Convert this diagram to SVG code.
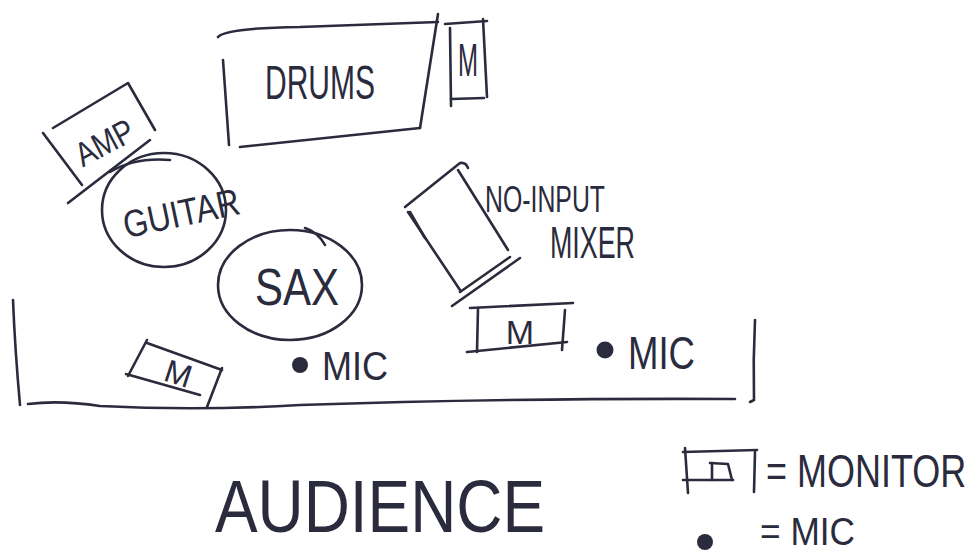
<svg xmlns="http://www.w3.org/2000/svg" width="980" height="553" viewBox="0 0 980 553">
<style>
.s{fill:none;stroke:#2b2b3e;stroke-width:2.6;stroke-linecap:round;stroke-linejoin:round}
.t{fill:#2b2b3e;font-family:"Liberation Sans",Arial,sans-serif}
.dot{fill:#2b2b3e}
</style>
<rect width="980" height="553" fill="#ffffff"/>
<g id="stage">
<path class="s" d="M13,300 Q15,350 20,405"/>
<path class="s" d="M28,404 Q60,400 100,406 Q200,411 300,405 Q500,398 735,399"/>
<path class="s" d="M755,320 Q753,360 754,400 L750,402"/>
</g>
<g id="drums">
<path class="s" d="M218,37 Q225,28 300,27 L438,22"/>
<path class="s" d="M223,60 L229,145"/>
<path class="s" d="M240,147 L420,128"/>
<path class="s" d="M438,14 L420,128"/>
<text class="t" x="265" y="99" font-size="48" textLength="110" lengthAdjust="spacingAndGlyphs">DRUMS</text>
</g>
<g id="monitor-drums">
<path class="s" d="M445,24 L487,21"/>
<path class="s" d="M450,28 L451,106"/>
<path class="s" d="M483,19 L487,97"/>
<path class="s" d="M451,99 L484,98"/>
<text class="t" x="458" y="76" font-size="46" textLength="20" lengthAdjust="spacingAndGlyphs">M</text>
</g>
<g id="amp">
<path class="s" d="M53,128 L128,83 L155,130"/>
<path class="s" d="M43,133 L82,185"/>
<path class="s" d="M68,203 L150,140"/>
<text class="t" x="0" y="0" font-size="34" text-anchor="middle" transform="translate(110,153) rotate(-28)" textLength="62" lengthAdjust="spacingAndGlyphs">AMP</text>
</g>
<g id="guitar">
<ellipse class="s" cx="164" cy="210" rx="62" ry="57"/>
<path class="s" d="M110,172 Q135,157 170,160"/>
<text class="t" x="0" y="0" font-size="38" text-anchor="middle" transform="translate(184,226) rotate(-12)" textLength="118" lengthAdjust="spacingAndGlyphs">GUITAR</text>
</g>
<g id="sax">
<ellipse class="s" cx="290" cy="285" rx="72" ry="55"/>
<path class="s" d="M305,228 Q318,232 325,245"/>
<text class="t" x="297" y="305" font-size="52" text-anchor="middle" textLength="84" lengthAdjust="spacingAndGlyphs">SAX</text>
</g>
<g id="mixer">
<path class="s" d="M405,207 L460,163 Q466,162 468,168"/>
<path class="s" d="M458,170 L508,250"/>
<path class="s" d="M408,212 L460,290"/>
<path class="s" d="M410,212 L425,238" stroke-width="4"/>
<path class="s" d="M460,292 L510,257"/>
<path class="s" d="M452,306 L520,258"/>
<text class="t" x="485" y="212" font-size="36" textLength="120" lengthAdjust="spacingAndGlyphs">NO-INPUT</text>
<text class="t" x="550" y="258" font-size="44" textLength="85" lengthAdjust="spacingAndGlyphs">MIXER</text>
</g>
<g id="monitor-left">
<path class="s" d="M147,343 L222,370"/>
<path class="s" d="M147,340 L128,376"/>
<path class="s" d="M126,374 L200,395"/>
<path class="s" d="M222,368 L207,407"/>
<text class="t" x="0" y="0" font-size="32" text-anchor="middle" transform="translate(175,384) rotate(18)">M</text>
</g>
<g id="mic-1">
<circle class="dot" cx="300" cy="365" r="8"/>
<text class="t" x="322" y="380" font-size="40" textLength="66" lengthAdjust="spacingAndGlyphs">MIC</text>
</g>
<g id="monitor-center">
<path class="s" d="M470,308 L573,303"/>
<path class="s" d="M478,308 L477,352"/>
<path class="s" d="M467,352 L567,342"/>
<path class="s" d="M565,310 L562,350"/>
<text class="t" x="520" y="344" font-size="34" text-anchor="middle">M</text>
</g>
<g id="mic-2">
<circle class="dot" cx="605" cy="350" r="8.5"/>
<text class="t" x="628" y="369" font-size="46" textLength="67" lengthAdjust="spacingAndGlyphs">MIC</text>
</g>
<g id="audience">
<text class="t" x="215" y="532" font-size="74" textLength="330" lengthAdjust="spacingAndGlyphs">AUDIENCE</text>
</g>
<g id="legend">
<path class="s" d="M683,452 L757,450"/>
<path class="s" d="M685,448 L688,493"/>
<path class="s" d="M683,480 L733,480"/>
<path class="s" d="M755,452 L754,492"/>
<path class="s" d="M710,463 L728,464 L732,480"/>
<path class="s" d="M712,463 L712,480"/>
<text class="t" x="0" y="0" font-size="36" transform="translate(766,487) scale(1,1.3)">= MONITOR</text>
<circle class="dot" cx="705" cy="542" r="8"/>
<text class="t" x="760" y="545" font-size="38" textLength="95" lengthAdjust="spacingAndGlyphs">= MIC</text>
</g>
</svg>
